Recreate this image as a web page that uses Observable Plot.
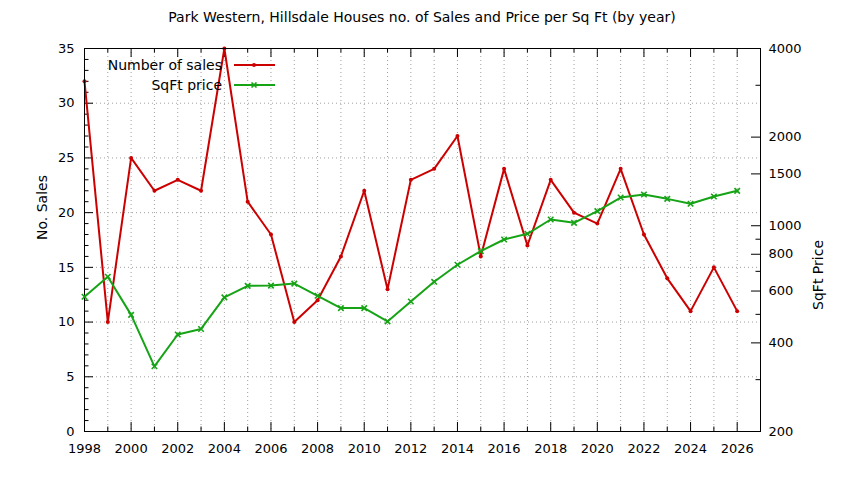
<!DOCTYPE html>
<html><head><meta charset="utf-8">
<script src="https://cdn.jsdelivr.net/npm/d3@7"></script>
<script src="https://cdn.jsdelivr.net/npm/@observablehq/plot@0.6"></script>
<style>
body{margin:0;background:#fff;}
#wrap{position:relative;width:844px;height:480px;font-family:"DejaVu Sans",sans-serif;}
#wrap svg{position:absolute;left:0;top:0;}
#title{position:absolute;top:9px;left:0;width:844px;text-align:center;font-size:14px;color:#000;}
</style></head><body>
<div id="wrap"><div id="title">Park Western, Hillsdale Houses no. of Sales and Price per Sq Ft (by year)</div></div>
<script>
const years = [1998,1999,2000,2001,2002,2003,2004,2005,2006,2007,2008,2009,2010,2011,2012,2013,2014,2015,2016,2017,2018,2019,2020,2021,2022,2023,2024,2025,2026];
const sales = [32,10,25,22,23,22,35,21,18,10,12,16,22,13,23,24,27,16,24,17,23,20,19,24,18,14,11,15,11];
const sqftPrice = [574,671,498,333,427,446,571,625,626,636,578,525,525,473,553,645,737,820,898,939,1050,1023,1121,1247,1277,1234,1187,1257,1314];

const xMajorTicks = [1998,2000,2002,2004,2006,2008,2010,2012,2014,2016,2018,2020,2022,2024,2026];
const xMinorTicks = [1999,2001,2003,2005,2007,2009,2011,2013,2015,2017,2019,2021,2023,2025];
const xGrid = [1999,2000,2001,2002,2003,2004,2005,2006,2007,2008,2009,2010,2011,2012,2013,2014,2015,2016,2017,2018,2019,2020,2021,2022,2023,2024,2025,2026];
const yMajorTicks = [0,5,10,15,20,25,30,35];
const yMinorTicks = [1,2,3,4,6,7,8,9,11,12,13,14,16,17,18,19,21,22,23,24,26,27,28,29,31,32,33,34];
const yGrid = [5,10,15,20,25,30];
const y2MajorTicks = [200,400,600,800,1000,1500,2000,4000];
const y2MinorTicks = [300,500,700,900,3000];
const xDomain = [1998, 2027];
const yDomain = [0, 35];
const y2Domain = [200, 4000];

const RED = "#cc0000", GREEN = "#16a316";
const W = 844, H = 480, mL = 84, mR = 84, mT = 48, mB = 49;
const pw = W - mL - mR, ph = H - mT - mB;
const MAJ = 9, MIN = 4.5;
const TICKFS = 13, LABFS = 14;
const rows = years.map((y, i) => ({year: y, sales: sales[i], price: sqftPrice[i]}));
const common = {width: W, height: H, marginLeft: mL, marginRight: mR, marginTop: mT, marginBottom: mB,
  style: {fontFamily: "DejaVu Sans, sans-serif", fontSize: TICKFS + "px", background: "transparent", color: "#000", overflow: "visible"}};

const p1 = Plot.plot({
  ...common,
  x: {type: "linear", domain: xDomain},
  y: {type: "linear", domain: yDomain},
  marks: [
    Plot.ruleX(xGrid, {x: d => d, stroke: "#a0a0a0", strokeDasharray: "1,3"}),
    Plot.ruleY(yGrid, {y: d => d, stroke: "#a0a0a0", strokeDasharray: "1,3"}),
    Plot.tickX(xMajorTicks, {x: d => d, insetTop: ph - MAJ, stroke: "#000"}),
    Plot.tickX(xMajorTicks, {x: d => d, insetBottom: ph - MAJ, stroke: "#000"}),
    Plot.tickX(xMinorTicks, {x: d => d, insetTop: ph - MIN, stroke: "#000"}),
    Plot.tickX(xMinorTicks, {x: d => d, insetBottom: ph - MIN, stroke: "#000"}),
    Plot.tickY(yMajorTicks, {y: d => d, insetRight: pw - MAJ, stroke: "#000"}),
    Plot.tickY(yMinorTicks, {y: d => d, insetRight: pw - MIN, stroke: "#000"}),
    Plot.axisX(xMajorTicks, {tickSize: 0, tickPadding: 12, tickFormat: d => String(d), label: null, fontSize: TICKFS}),
    Plot.axisY(yMajorTicks, {tickSize: 0, tickPadding: 10, label: null, fontSize: TICKFS}),
    Plot.text(["No. Sales"], {frameAnchor: "left", text: d => d, rotate: -90, dx: -42, fontSize: LABFS}),
    Plot.line(rows, {x: "year", y: "sales", stroke: RED, strokeWidth: 2}),
    Plot.dot(rows, {x: "year", y: "sales", r: 2, fill: RED, stroke: null}),
    Plot.frame({stroke: "#000"})
  ]
});

const p2 = Plot.plot({
  ...common,
  x: {type: "linear", domain: xDomain, axis: null},
  y: {type: "log", domain: y2Domain, axis: null},
  marks: [
    Plot.tickY(y2MajorTicks, {y: d => d, insetLeft: pw - MAJ, stroke: "#000"}),
    Plot.tickY(y2MinorTicks, {y: d => d, insetLeft: pw - MIN, stroke: "#000"}),
    Plot.axisY(y2MajorTicks, {anchor: "right", tickSize: 0, tickPadding: 8, label: null, tickFormat: d => String(d), fontSize: TICKFS}),
    Plot.text(["SqFt Price"], {frameAnchor: "right", text: d => d, rotate: -90, dx: 58, fontSize: LABFS}),
    Plot.line(rows, {x: "year", y: "price", stroke: GREEN, strokeWidth: 2}),
    Plot.dot(rows, {x: "year", y: "price", r: 2.6, symbol: "times", stroke: GREEN, strokeWidth: 1.6})
  ]
});

const wrap = document.getElementById("wrap");
wrap.appendChild(p1);
wrap.appendChild(p2);

// legend
const leg = d3.select(p2).append("g").attr("font-family", "DejaVu Sans, sans-serif").attr("font-size", LABFS);
const legendItems = [
  {label: "Number of sales", color: RED, sym: "dot", y: 65},
  {label: "SqFt price", color: GREEN, sym: "times", y: 85}
];
legendItems.forEach(it => {
  leg.append("text").attr("x", 222).attr("y", it.y).attr("dy", "0.35em").attr("text-anchor", "end").text(it.label);
  leg.append("line").attr("x1", 234).attr("x2", 275).attr("y1", it.y).attr("y2", it.y).attr("stroke", it.color).attr("stroke-width", 2);
  if (it.sym === "dot") {
    leg.append("circle").attr("cx", 254).attr("cy", it.y).attr("r", 2).attr("fill", it.color);
  } else {
    leg.append("path").attr("d", `M${251.5},${it.y-2.5}L${256.5},${it.y+2.5}M${251.5},${it.y+2.5}L${256.5},${it.y-2.5}`).attr("stroke", it.color).attr("stroke-width", 1.6);
  }
});
</script>
</body></html>
